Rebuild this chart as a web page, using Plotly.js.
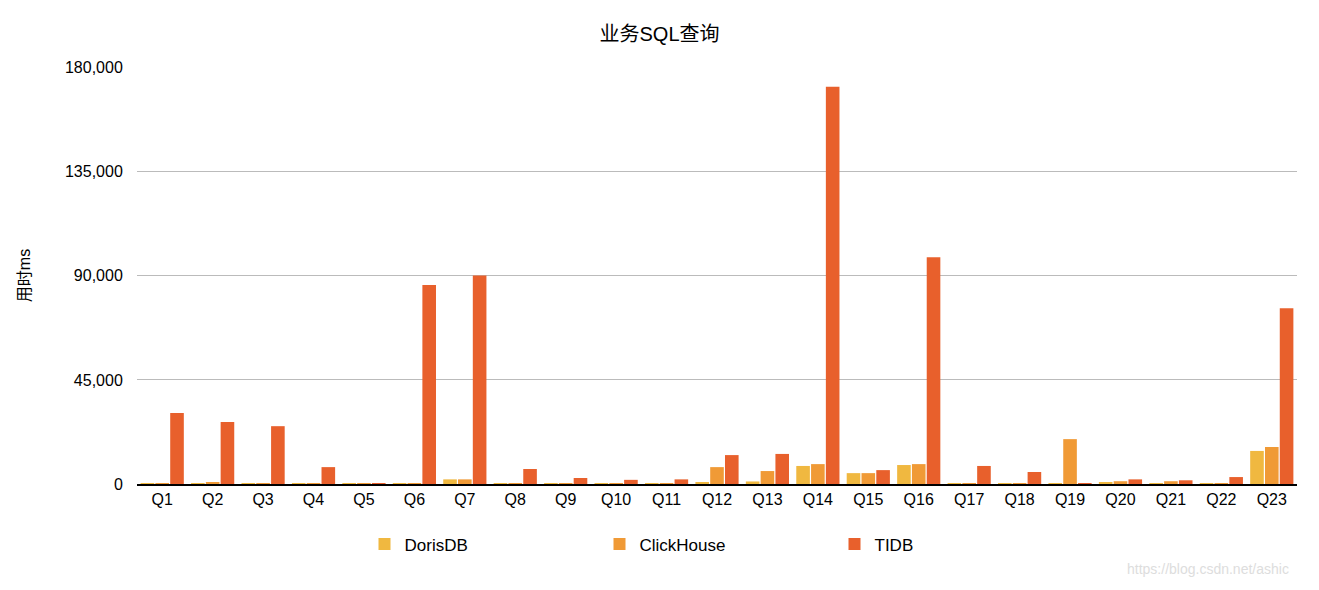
<!DOCTYPE html>
<html>
<head>
<meta charset="utf-8">
<script src="https://cdn.plot.ly/plotly-3.0.1.min.js"></script>
<style>body{margin:0;background:#fff}</style>
</head>
<body>
<div id="chart" style="width:1319px;height:590px"></div>
<div style="position:absolute;left:1127px;top:561px;font:14px 'Liberation Sans';color:#ddd">https://blog.csdn.net/ashic</div>
<script>
var queries = ["Q1","Q2","Q3","Q4","Q5","Q6","Q7","Q8","Q9","Q10","Q11","Q12","Q13","Q14","Q15","Q16","Q17","Q18","Q19","Q20","Q21","Q22","Q23"];
var dorisDB = [300, 300, 200, 200, 100, 300, 2000, 200, 200, 200, 200, 800, 1100, 7800, 4700, 8200, 300, 200, 200, 800, 300, 300, 14300];
var clickHouse = [300, 800, 300, 300, 200, 300, 2000, 300, 300, 300, 300, 7300, 5600, 8600, 4700, 8600, 300, 300, 19400, 1200, 1200, 300, 16000];
var tidb = [30700, 26800, 25000, 7300, 300, 86000, 90200, 6500, 2600, 1800, 2000, 12500, 13000, 171800, 6000, 98000, 7800, 5200, 300, 2000, 1600, 3000, 76000];

var data = [
    {type: 'bar', name: 'DorisDB', x: queries, y: dorisDB, marker: {color: '#f0b840'}},
    {type: 'bar', name: 'ClickHouse', x: queries, y: clickHouse, marker: {color: '#f09a36'}},
    {type: 'bar', name: 'TIDB', x: queries, y: tidb, marker: {color: '#e8602c'}}
];
var layout = {
    width: 1319, height: 590,
    margin: {l: 137, r: 22, t: 67, b: 106, autoexpand: false},
    font: {family: "'Liberation Sans', 'Noto Sans CJK SC', sans-serif", size: 16, color: '#000'},
    title: {text: '业务SQL查询', x: 0.5, y: 0.955, font: {size: 20}},
    bargap: 0.12, bargroupgap: 0.08,
    xaxis: {showline: true, linecolor: '#000', linewidth: 2, tickfont: {size: 16}, automargin: false},
    yaxis: {
        title: {text: '用时ms', font: {size: 16}, standoff: 30},
        range: [0, 180300], tickvals: [0, 45000, 90000, 135000, 180000],
        tickformat: ',d', gridcolor: '#bbb', zeroline: false, ticklen: 10, ticks: 'outside', tickcolor: 'rgba(0,0,0,0)',
        automargin: false
    },
    legend: {orientation: 'h', x: 0.5, xanchor: 'center', y: -0.145, yanchor: 'middle', font: {size: 17},
        entrywidth: 190, traceorder: 'normal'},
    showlegend: true
};
Plotly.newPlot('chart', data, layout, {displayModeBar: false});
</script>
</body>
</html>
